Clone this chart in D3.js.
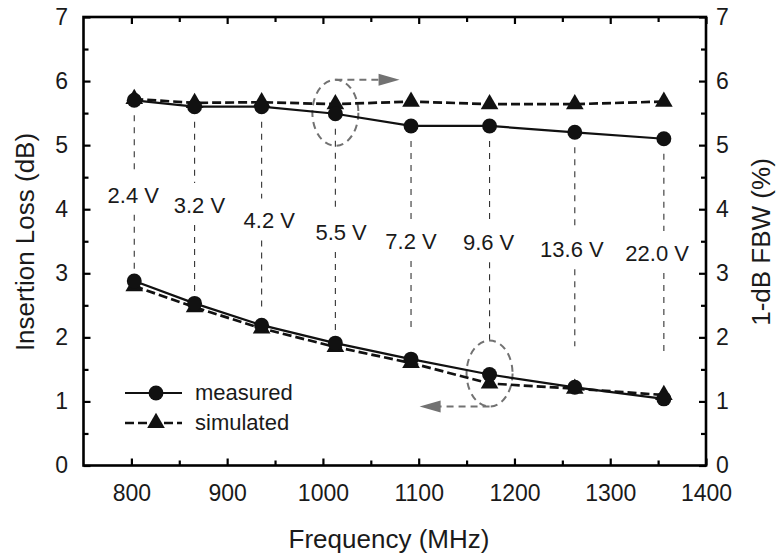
<!DOCTYPE html>
<html>
<head>
<meta charset="utf-8">
<script src="https://cdn.jsdelivr.net/npm/d3@7"></script>
<style>
body { margin: 0; background: #fff; }
svg { display: block; font-family: "Liberation Sans", Arial, Helvetica, sans-serif; }
</style>
</head>
<body>
<svg width="778" height="556"></svg>
<script>
let freq = [803, 866, 936, 1013, 1092, 1174, 1263, 1356];
let voltages = ['2.4 V', '3.2 V', '4.2 V', '5.5 V', '7.2 V', '9.6 V', '13.6 V', '22.0 V'];
let ilMeasured = [2.88, 2.53, 2.19, 1.91, 1.66, 1.42, 1.22, 1.04];
let ilSimulated = [2.80, 2.47, 2.14, 1.85, 1.60, 1.28, 1.20, 1.10];
let fbwMeasured = [5.70, 5.60, 5.60, 5.49, 5.30, 5.30, 5.20, 5.10];
let fbwSimulated = [5.72, 5.66, 5.67, 5.64, 5.68, 5.64, 5.64, 5.68];
// where each bias label sits (MHz, axis units) and bottom end of each guide
let labelFreq = [802, 871, 944, 1019, 1092, 1173, 1260, 1349];
let labelLevel = [4.10, 3.94, 3.70, 3.52, 3.38, 3.36, 3.25, 3.19];
let guideEnd = [2.89, 2.61, 2.39, 2.11, 2.10, 1.88, 1.86, 1.77];
// the two callouts end their arrows here (MHz)
let arrowTips = [1080, 1101];
let xMajor = [800, 900, 1000, 1100, 1200, 1300, 1400];
let xMinor = [850, 950, 1050, 1150, 1250, 1350];
let yMajor = [0, 1, 2, 3, 4, 5, 6, 7];
let yMinor = [0.5, 1.5, 2.5, 3.5, 4.5, 5.5, 6.5];

let svg = d3.select('svg');
let x = d3.scaleLinear().domain([750, 1400]).range([83.5, 706]);
let yL = d3.scaleLinear().domain([0, 7]).range([465.5, 17]);
let yR = d3.scaleLinear().domain([0, 7]).range([465.5, 17]);
let gray = '#727272';

// axes, ticks pointing inwards
function axis(gen, tr, values, size, pad, labels) {
    let g = svg.append('g').attr('transform', tr)
        .call(gen.tickValues(values).tickSize(size).tickPadding(pad)
            .tickFormat(labels ? d3.format('d') : ''));
    g.select('.domain').remove();
    g.selectAll('line').attr('stroke', '#000').attr('stroke-width', 2.2);
    g.selectAll('text').attr('font-size', 23).attr('fill', '#1a1a1a').style('font-family', 'inherit');
    return g;
}
axis(d3.axisBottom(x), 'translate(0,465.5)', xMajor, -7, 19.5, true);
axis(d3.axisBottom(x), 'translate(0,465.5)', xMinor, -5, 0, false);
axis(d3.axisTop(x), 'translate(0,17)', xMajor, -7, 0, false);
axis(d3.axisTop(x), 'translate(0,17)', xMinor, -5, 0, false);
axis(d3.axisLeft(yL), 'translate(83.5,0)', yMajor, -7, 15.5, true);
axis(d3.axisLeft(yL), 'translate(83.5,0)', yMinor, -5, 0, false);
axis(d3.axisRight(yR), 'translate(706,0)', yMajor, -7, 10, true);
axis(d3.axisRight(yR), 'translate(706,0)', yMinor, -5, 0, false);

svg.append('rect')
    .attr('x', x(750)).attr('y', yL(7))
    .attr('width', x(1400) - x(750)).attr('height', yL(0) - yL(7))
    .attr('fill', 'none').attr('stroke', '#000').attr('stroke-width', 2.6);

// axis titles
svg.append('text').attr('transform', 'translate(34,242) rotate(-90)')
    .attr('text-anchor', 'middle').attr('font-size', 26).attr('fill', '#1a1a1a')
    .text('Insertion Loss (dB)');
svg.append('text').attr('transform', 'translate(770,242) rotate(-90)')
    .attr('text-anchor', 'middle').attr('font-size', 26).attr('fill', '#1a1a1a')
    .text('1-dB FBW (%)');
svg.append('text').attr('x', 389).attr('y', 548)
    .attr('text-anchor', 'middle').attr('font-size', 26).attr('fill', '#1a1a1a')
    .text('Frequency (MHz)');

// vertical guides with bias voltage labels
let guides = svg.append('g');
freq.forEach(function(f, i) {
    let gx = x(f);
    let mid = yL(labelLevel[i]);
    let parts = [[yR(fbwMeasured[i]) + 15, mid - 30], [mid + 12, yL(guideEnd[i])]];
    for (let p of parts) {
        guides.append('line')
            .attr('x1', gx).attr('x2', gx).attr('y1', p[0]).attr('y2', p[1])
            .attr('stroke', '#333').attr('stroke-width', 1.1).attr('stroke-dasharray', '6,6');
    }
    guides.append('text').attr('x', x(labelFreq[i])).attr('y', mid)
        .attr('text-anchor', 'middle').attr('font-size', 22).attr('fill', '#1a1a1a')
        .text(voltages[i]);
});

// callout circles and arrows
function callout(cx, cy, tip, up) {
    svg.append('ellipse').attr('cx', cx).attr('cy', cy).attr('rx', 23).attr('ry', 33)
        .attr('fill', 'none').attr('stroke', gray).attr('stroke-width', 2)
        .attr('stroke-dasharray', '7,5');
    let ay = up ? cy - 33 : cy + 33;
    let dir = tip > cx ? 1 : -1;
    svg.append('line').attr('x1', cx).attr('x2', tip - dir * 20).attr('y1', ay).attr('y2', ay)
        .attr('stroke', gray).attr('stroke-width', 2).attr('stroke-dasharray', '7,5');
    svg.append('path')
        .attr('d', d3.line()([[tip, ay], [tip - dir * 21, ay - 6], [tip - dir * 21, ay + 6]]))
        .attr('fill', gray);
}
callout(x(freq[3]), yR(fbwMeasured[3]) - 1, x(arrowTips[0]), true);
callout(x(freq[5]), yL(ilMeasured[5]) - 1, x(arrowTips[1]), false);

// series
let line = d3.line();
function series(ys, scale, dashed) {
    svg.append('path')
        .attr('d', line(freq.map(function(f, i) { return [x(f), scale(ys[i])]; })))
        .attr('fill', 'none').attr('stroke', '#111')
        .attr('stroke-width', dashed ? 2.7 : 2.2)
        .attr('stroke-dasharray', dashed ? '9,4' : null);
}
function markers(ys, scale, shape) {
    svg.append('g').selectAll('path').data(freq).enter().append('path')
        .attr('transform', function(f, i) { return 'translate(' + x(f) + ',' + scale(ys[i]) + ')'; })
        .attr('d', d3.symbol().type(shape).size(shape == d3.symbolCircle ? 175 : 135))
        .attr('fill', '#111');
}
series(ilSimulated, yL, true);
series(fbwSimulated, yR, true);
series(ilMeasured, yL, false);
series(fbwMeasured, yR, false);
markers(ilSimulated, yL, d3.symbolTriangle);
markers(fbwSimulated, yR, d3.symbolTriangle);
markers(ilMeasured, yL, d3.symbolCircle);
markers(fbwMeasured, yR, d3.symbolCircle);

// legend
let legend = [['measured', false, d3.symbolCircle, 393], ['simulated', true, d3.symbolTriangle, 423]];
for (let l of legend) {
    svg.append('line').attr('x1', 125).attr('x2', 182).attr('y1', l[3]).attr('y2', l[3])
        .attr('stroke', '#111').attr('stroke-width', l[1] ? 2.7 : 2.2)
        .attr('stroke-dasharray', l[1] ? '9,4' : null);
    svg.append('path').attr('transform', 'translate(156,' + l[3] + ')')
        .attr('d', d3.symbol().type(l[2]).size(l[1] ? 135 : 175)).attr('fill', '#111');
    svg.append('text').attr('x', 195).attr('y', l[3] + 7)
        .attr('font-size', 22).attr('fill', '#1a1a1a').text(l[0]);
}
</script>
</body>
</html>
